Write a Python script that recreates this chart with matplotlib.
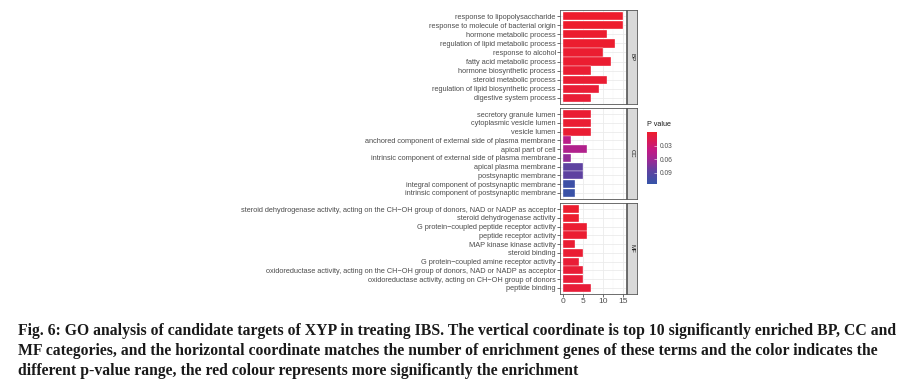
import numpy as np
import matplotlib
matplotlib.use("Agg")
import matplotlib.pyplot as plt
from matplotlib.colors import LinearSegmentedColormap, Normalize
from matplotlib.cm import ScalarMappable

# GO terms per category, top to bottom as shown
bp_terms = [
    "response to lipopolysaccharide",
    "response to molecule of bacterial origin",
    "hormone metabolic process",
    "regulation of lipid metabolic process",
    "response to alcohol",
    "fatty acid metabolic process",
    "hormone biosynthetic process",
    "steroid metabolic process",
    "regulation of lipid biosynthetic process",
    "digestive system process",
]
bp_count = [15, 15, 11, 13, 10, 12, 7, 11, 9, 7]
bp_p = [0.001, 0.001, 0.002, 0.002, 0.003, 0.003, 0.004, 0.004, 0.005, 0.005]

cc_terms = [
    "secretory granule lumen",
    "cytoplasmic vesicle lumen",
    "vesicle lumen",
    "anchored component of external side of plasma membrane",
    "apical part of cell",
    "intrinsic component of external side of plasma membrane",
    "apical plasma membrane",
    "postsynaptic membrane",
    "integral component of postsynaptic membrane",
    "intrinsic component of postsynaptic membrane",
]
cc_count = [7, 7, 7, 2, 6, 2, 5, 5, 3, 3]
cc_p = [0.004, 0.004, 0.004, 0.045, 0.05, 0.066, 0.086, 0.086, 0.109, 0.111]

mf_terms = [
    "steroid dehydrogenase activity, acting on the CH\u2212OH group of donors, NAD or NADP as acceptor",
    "steroid dehydrogenase activity",
    "G protein\u2212coupled peptide receptor activity",
    "peptide receptor activity",
    "MAP kinase kinase activity",
    "steroid binding",
    "G protein\u2212coupled amine receptor activity",
    "oxidoreductase activity, acting on the CH\u2212OH group of donors, NAD or NADP as acceptor",
    "oxidoreductase activity, acting on CH\u2212OH group of donors",
    "peptide binding",
]
mf_count = [4, 4, 6, 6, 3, 5, 4, 5, 5, 7]
mf_p = [0.002, 0.002, 0.003, 0.003, 0.004, 0.004, 0.005, 0.005, 0.006, 0.006]

categories = ["BP", "CC", "MF"]
x_ticks = [0, 5, 10, 15]
cbar_ticks = [0.03, 0.06, 0.09]

caption = [
    "Fig. 6: GO analysis of candidate targets of XYP in treating IBS. The vertical coordinate is top 10 significantly enriched BP, CC and",
    "MF categories, and the horizontal coordinate matches the number of enrichment genes of these terms and the color indicates the",
    "different p-value range, the red colour represents more significantly the enrichment",
]

W, H = 906, 392
plt.rcParams["font.family"] = ["Liberation Sans", "DejaVu Sans"]


def px(x0, y0, x1, y1):
    return [x0 / W, 1 - y1 / H, (x1 - x0) / W, (y1 - y0) / H]


cmap = LinearSegmentedColormap.from_list(
    "pval", [(0.0, "#EE1D2B"), (0.35, "#C21A85"), (0.55, "#9A2A96"),
             (0.75, "#5E42A0"), (1.0, "#3554A8")])
norm = Normalize(0.0, 0.115)

fig = plt.figure(figsize=(W / 100, H / 100), dpi=100)

panels = [(bp_terms, bp_count, bp_p, 10, 104),
          (cc_terms, cc_count, cc_p, 108, 199),
          (mf_terms, mf_count, mf_p, 203, 294)]

for i, (terms, counts, pvals, y0, y1) in enumerate(panels):
    ax = fig.add_axes(px(560, y0, 626, y1))
    ypos = np.arange(len(terms))
    ax.barh(ypos, counts, height=0.9, color=cmap(norm(pvals)),
            edgecolor="white", linewidth=0.25, zorder=3)
    ax.set_ylim(len(terms) - 0.3, -0.7)
    ax.set_xlim(-0.75, 15.75)
    ax.set_yticks(ypos)
    ax.set_yticklabels(terms, fontsize=5.3, color="#4D4D4D")
    ax.set_xticks(x_ticks)
    ax.set_xticks([2.5, 7.5, 12.5], minor=True)
    ax.grid(True, which="major", color="#EBEBEB", linewidth=0.6, zorder=0)
    ax.grid(True, which="minor", axis="x", color="#F3F3F3", linewidth=0.3, zorder=0)
    ax.set_axisbelow(True)
    ax.tick_params(axis="y", length=2, width=0.5, color="#333333", pad=1)
    ax.tick_params(which="minor", length=0)
    if i == 2:
        ax.tick_params(axis="x", length=2, width=0.5, color="#333333",
                       labelsize=6, labelcolor="#4D4D4D", pad=1)
    else:
        ax.tick_params(axis="x", length=0, labelbottom=False)
    for s in ax.spines.values():
        s.set_color("#555555")
        s.set_linewidth(0.6)

    strip = fig.add_axes(px(627, y0, 637, y1))
    strip.set_facecolor("#D9D9D9")
    strip.set_xticks([])
    strip.set_yticks([])
    for s in strip.spines.values():
        s.set_color("#555555")
        s.set_linewidth(0.6)
    strip.text(0.5, 0.5, categories[i], rotation=-90, ha="center", va="center",
               fontsize=4.4, color="#1A1A1A", transform=strip.transAxes)

# colour legend
cax = fig.add_axes(px(647, 132, 657, 184))
cb = fig.colorbar(ScalarMappable(norm=norm, cmap=cmap), cax=cax)
cb.outline.set_visible(False)
cb.set_ticks(cbar_ticks)
cb.set_ticklabels([f"{t:.2f}" for t in cbar_ticks])
cax.invert_yaxis()
cax.tick_params(length=2, width=0.4, color="white", direction="in",
                labelsize=4.8, labelcolor="#4D4D4D", pad=2)
fig.text(647 / W, 1 - 125 / H, "P value", fontsize=5.2, color="#1A1A1A",
         ha="left", va="center")

# caption, sized so the first line spans the full width
cap_kw = dict(family=["Liberation Serif", "DejaVu Serif"], weight="bold",
              color="#1A1A1A", ha="left", va="center")
txts = [fig.text(18 / W, 1 - y / H, line, fontsize=10, **cap_kw)
        for line, y in zip(caption, [331, 351, 371])]
fig.canvas.draw()
r = fig.canvas.get_renderer()
w0 = txts[0].get_window_extent(r).width
size = 10 * 880 / w0
for t in txts:
    t.set_fontsize(size)

fig.savefig("out.png", dpi=100)
